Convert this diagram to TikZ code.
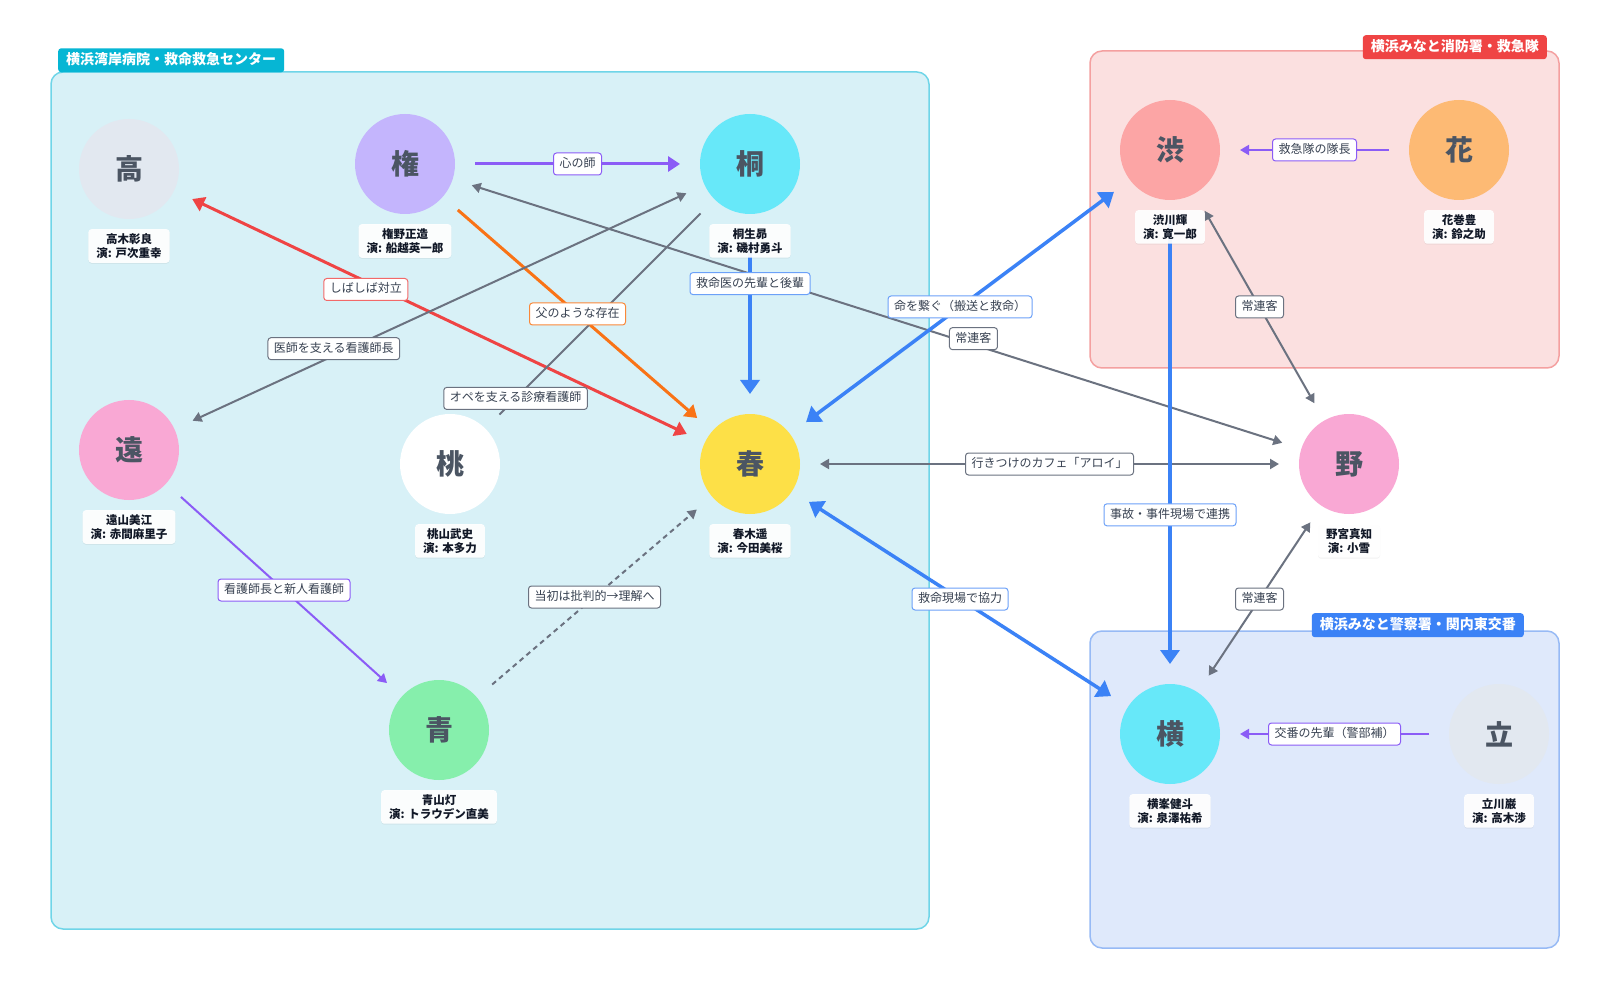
\documentclass[tikz,border=0pt]{standalone}
\usepackage{fontspec}
\setmainfont{Noto Sans CJK JP}
\usetikzlibrary{arrows.meta,shadows}
\definecolor{cBlue}{HTML}{3B82F6}
\definecolor{cRed}{HTML}{EF4444}
\definecolor{cOrange}{HTML}{F97316}
\definecolor{cPurple}{HTML}{8B5CF6}
\definecolor{cGray}{HTML}{6B7280}
\definecolor{hospFill}{HTML}{D8F1F7}
\definecolor{hospLine}{HTML}{6FD5E8}
\definecolor{hospTitle}{HTML}{06B6D4}
\definecolor{fireFill}{HTML}{FBE0E0}
\definecolor{fireLine}{HTML}{F4A0A0}
\definecolor{fireTitle}{HTML}{EF4444}
\definecolor{polFill}{HTML}{DFE9FB}
\definecolor{polLine}{HTML}{97BAF5}
\definecolor{polTitle}{HTML}{3B82F6}
\definecolor{fSlate}{HTML}{E2E8F0}
\definecolor{fViolet}{HTML}{C4B5FD}
\definecolor{fCyan}{HTML}{67E8F9}
\definecolor{fPink}{HTML}{F9A8D4}
\definecolor{fYellow}{HTML}{FDE047}
\definecolor{fGreen}{HTML}{86EFAC}
\definecolor{fRed}{HTML}{FCA5A5}
\definecolor{fOrange}{HTML}{FDBA74}
\definecolor{charText}{HTML}{4B5563}
\definecolor{nameText}{HTML}{111827}
\definecolor{labelText}{HTML}{374151}
\pgfdeclarelayer{groups}
\pgfdeclarelayer{edgelayer}
\pgfsetlayers{groups,edgelayer,main}
\tikzset{
  BT/.tip={Triangle[length=14pt,width=19pt]},
  MT/.tip={Triangle[length=12pt,width=15pt]},
  ST/.tip={Triangle[length=9pt,width=10pt]},
  person/.style={circle, minimum size=100pt, inner sep=0pt, outer sep=20pt,
    text=charText, font=\fontsize{28}{30}\selectfont\bfseries},
  namebox/.style={anchor=north, fill=white, fill opacity=0.93, text opacity=1,
    rounded corners=3pt, inner xsep=8pt, inner ysep=4pt, align=center,
    text=nameText, font=\fontsize{11.5}{14.5}\selectfont\bfseries,
    drop shadow={shadow xshift=0pt, shadow yshift=-1pt, opacity=0.10}},
  elabel/.style={fill=white, draw=#1, line width=1pt, rounded corners=3pt,
    inner xsep=6pt, inner ysep=5pt, text=labelText,
    font=\fontsize{12}{14}\selectfont, text height=9.5pt, text depth=2.5pt},
  groupbox/.style={rounded corners=12pt, line width=1.5pt},
  gtitle/.style={rounded corners=3pt, text=white, font=\fontsize{14}{16}\selectfont\bfseries,
    inner xsep=8pt, inner ysep=5pt, text height=11pt, text depth=3pt},
  eBlue/.style={draw=cBlue, line width=3.5pt},
  eRed/.style={draw=cRed, line width=3pt},
  eOrange/.style={draw=cOrange, line width=3pt},
  ePurpleThick/.style={draw=cPurple, line width=3pt},
  ePurpleThin/.style={draw=cPurple, line width=2pt},
  eGray/.style={draw=cGray, line width=2pt},
  eDash/.style={draw=cGray, line width=2pt, dash pattern=on 5pt off 4pt},
}
\newcommand\person[7]{%
  \node[person, fill=#5] (#1) at (#2,#3) {#4};
  \node[namebox] (#1L) at (#2,#3+60) {#6\\#7};}
\begin{document}
\begin{tikzpicture}[x=1pt, y=-1pt]
\useasboundingbox (0,0) rectangle (1610,1000);
% groups
\begin{pgfonlayer}{groups}
\fill[white] (0,0) rectangle (1610,1000);
\draw[groupbox, fill=hospFill, draw=hospLine] (51,72) rectangle (929,929);
\node[gtitle, fill=hospTitle, anchor=south west] (hospT) at (58,72.5) {横浜湾岸病院・救命救急センター};
\draw[groupbox, fill=fireFill, draw=fireLine] (1090,51) rectangle (1559,368);
\node[gtitle, fill=fireTitle, anchor=north east] (fireT) at (1547,35) {横浜みなと消防署・救急隊};
\draw[groupbox, fill=polFill, draw=polLine] (1090,631) rectangle (1559,948);
\node[gtitle, fill=polTitle, anchor=north east] (polT) at (1524,613) {横浜みなと警察署・関内東交番};
\end{pgfonlayer}
% persons
\person{takagi}{129}{169}{高}{fSlate}{高木彰良}{演: 戸次重幸}
\person{gon}{405}{164}{権}{fViolet}{権野正造}{演: 船越英一郎}
\person{kiri}{750}{164}{桐}{fCyan}{桐生昴}{演: 磯村勇斗}
\person{too}{129}{450}{遠}{fPink}{遠山美江}{演: 赤間麻里子}
\person{momo}{450}{464}{桃}{white}{桃山武史}{演: 本多力}
\person{haru}{750}{464}{春}{fYellow}{春木遥}{演: 今田美桜}
\person{ao}{439}{730}{青}{fGreen}{青山灯}{演: トラウデン直美}
\person{shibu}{1170}{150}{渋}{fRed}{渋川輝}{演: 寛一郎}
\person{hana}{1459}{150}{花}{fOrange}{花巻豊}{演: 鈴之助}
\person{no}{1349}{464}{野}{fPink}{野宮真知}{演: 小雪}
\person{yoko}{1170}{734}{横}{fCyan}{横峯健斗}{演: 泉澤祐希}
\person{tachi}{1499}{734}{立}{fSlate}{立川巌}{演: 高木渉}
% edges
\begin{pgfonlayer}{edgelayer}
\draw[ePurpleThick, -MT] (gon) -- (kiri) coordinate[pos=0.5] (e1);
\draw[eRed, MT-MT] (takagi) -- (haru) coordinate[pos=0.351] (e2);
\draw[eOrange, -MT] (gon) -- (haru) coordinate[pos=0.5] (e3);
\draw[eGray, ST-ST] (kiri) -- (too) coordinate[pos=0.714] (e4);
\draw[eGray] (kiri) -- (momo) coordinate[pos=0.92] (e5);
\draw[eBlue, -BT] (kiri) -- (haru) coordinate[pos=0.31] (e6);
\draw[eGray, ST-ST] (gon) -- (no) coordinate[pos=0.619] (e7);
\draw[eDash, -ST] (ao) -- (haru) coordinate[pos=0.5] (e8);
\draw[ePurpleThin, -ST] (too) -- (ao) coordinate[pos=0.5] (e9);
\draw[eBlue, BT-BT] (haru) -- (shibu) coordinate[pos=0.5] (e10);
\draw[eBlue, BT-BT] (haru) -- (yoko) coordinate[pos=0.5] (e11);
\draw[eGray, ST-ST] (haru) -- (no) coordinate[pos=0.5] (e12);
\draw[eBlue, -BT] (shibu) -- (yoko) coordinate[pos=0.664] (e13);
\draw[ePurpleThin, -ST] (hana) -- (shibu) coordinate[pos=0.5] (e14);
\draw[eGray, ST-ST] (shibu) -- (no) coordinate[pos=0.5] (e15);
\draw[eGray, ST-ST] (yoko) -- (no) coordinate[pos=0.5] (e16);
\draw[ePurpleThin, -ST] (tachi) -- (yoko) coordinate[pos=0.5] (e17);
\end{pgfonlayer}
% edge labels
\node[elabel=cPurple] (l1) at (e1) {心の師};
\node[elabel=cRed!80!white, yshift=-8pt] (l2) at (e2) {しばしば対立};
\node[elabel=cOrange!85!white] (l3) at (e3) {父のような存在};
\node[elabel=cGray, yshift=7pt] (l4) at (e4) {医師を支える看護師長};
\node[elabel=cGray] (l5) at (e5) {オペを支える診療看護師};
\node[elabel=cBlue!75!white] (l6) at (e6) {救命医の先輩と後輩};
\node[elabel=cGray, yshift=6pt] (l7) at (e7) {常連客};
\node[elabel=cGray] (l8) at (e8) {当初は批判的→理解へ};
\node[elabel=cPurple] (l9) at (e9) {看護師長と新人看護師};
\node[elabel=cBlue!75!white] (l10) at (e10) {命を繋ぐ（搬送と救命）};
\node[elabel=cBlue!75!white] (l11) at (e11) {救命現場で協力};
\node[elabel=cGray] (l12) at (e12) {行きつけのカフェ「アロイ」};
\node[elabel=cBlue!75!white] (l13) at (e13) {事故・事件現場で連携};
\node[elabel=cPurple] (l14) at (e14) {救急隊の隊長};
\node[elabel=cGray] (l15) at (e15) {常連客};
\node[elabel=cGray] (l16) at (e16) {常連客};
\node[elabel=cPurple] (l17) at (e17) {交番の先輩（警部補）};
\end{tikzpicture}
\end{document}
